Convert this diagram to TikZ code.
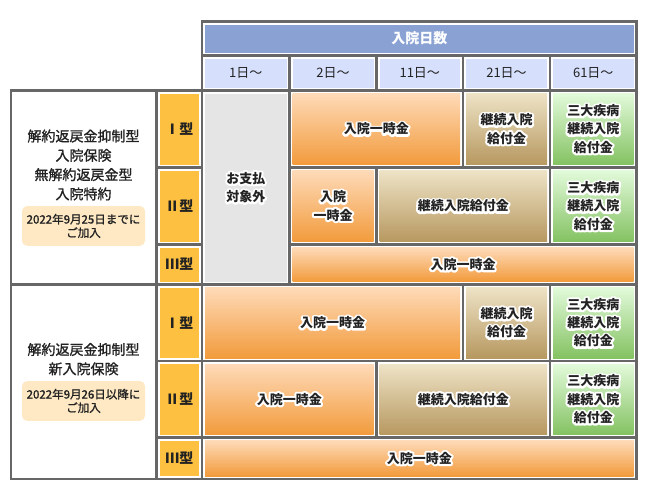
\documentclass[tikz,border=0pt]{standalone}
\usepackage{fontspec}
\setmainfont{Noto Sans CJK JP}
\newfontfamily\lblfont[FakeBold=1.2]{Noto Sans CJK JP}
\definecolor{gridc}{HTML}{676767}
\definecolor{hdrblue}{HTML}{8AA2D3}
\definecolor{daybl}{HTML}{D6E0FC}
\definecolor{typey}{HTML}{FDC040}
\definecolor{nopay}{HTML}{E5E5E5}
\definecolor{orT}{HTML}{FEDAB8}
\definecolor{orB}{HTML}{F29B3C}
\definecolor{brT}{HTML}{EEE3C6}
\definecolor{brB}{HTML}{B79860}
\definecolor{grT}{HTML}{E2FADA}
\definecolor{grB}{HTML}{84C262}
\definecolor{notec}{HTML}{FEE9C4}
\definecolor{txt}{HTML}{222222}
\newcommand\halo[1]{\rlap{\special{pdf:literal 1 Tr 4 w 1 j 1 J 1 1 1 RG}#1\special{pdf:literal 0 Tr 1 w 0 j 0 J 0 0 0 RG}}#1}
\newcommand\cellbox[7]{%
  \fill[white] ({#2+1.3},{#3+1.3}) rectangle ({#4-1.3},{#5-1.3});
  \node[#6, inner sep=0pt, minimum width={#4-#2-6}, minimum height={#5-#3-6}, anchor=center] (#1) at ({(#2+#4)/2},{(#3+#5)/2}) {#7};
}
\tikzset{
  hdr/.style={fill=hdrblue, text=white, font=\bfseries\fontsize{14}{17}\selectfont},
  day/.style={fill=daybl, text=txt, font=\fontsize{13}{16}\selectfont},
  typ/.style={fill=typey, text=txt, font=\bfseries\fontsize{14}{17}\selectfont},
  gray/.style={fill=nopay, text=txt, align=center, font=\bfseries\fontsize{13}{18.3}\selectfont},
  blank/.style={fill=white},
  hcell/.style={text=txt, align=center, font=\bfseries\fontsize{13}{18.3}\selectfont},
  orng/.style={hcell, top color=orT, bottom color=orB},
  brwn/.style={hcell, top color=brT, bottom color=brB},
  gren/.style={hcell, top color=grT, bottom color=grB},
  lbl/.style={text=txt, align=center, font=\lblfont\fontsize{14}{19.3}\selectfont},
  notebox/.style={fill=notec, rounded corners=5pt, text=txt, align=center, inner sep=0pt, font=\lblfont\fontsize{11.5}{13.5}\selectfont}
}
\begin{document}
\begin{tikzpicture}[x=1pt,y=-1pt]
\useasboundingbox (0,0) rectangle (648,498);
\def\Xa{11}\def\Xb{156.5}\def\Xc{202}\def\Xd{289.5}\def\Xe{376.5}\def\Xf{463}\def\Xg{550}\def\Xh{636.5}
\def\Ya{21.5}\def\Yb{55.5}\def\Yc{90.5}\def\Yd{167.5}\def\Ye{244.5}\def\Yf{284.5}\def\Yg{361}\def\Yh{437.5}\def\Yi{479}
% grid background
\fill[gridc] ({\Xc-1.3},{\Ya-1.3}) rectangle ({\Xh+1.3},{\Yc});
\fill[gridc] ({\Xa-1.3},{\Yc-1.3}) rectangle ({\Xh+1.3},{\Yi+1.3});
% header
\cellbox{hdr}{\Xc}{\Ya}{\Xh}{\Yb}{hdr}{入院日数}
\cellbox{d1}{\Xc}{\Yb}{\Xd}{\Yc}{day}{1日〜}
\cellbox{d2}{\Xd}{\Yb}{\Xe}{\Yc}{day}{2日〜}
\cellbox{d11}{\Xe}{\Yb}{\Xf}{\Yc}{day}{11日〜}
\cellbox{d21}{\Xf}{\Yb}{\Xg}{\Yc}{day}{21日〜}
\cellbox{d61}{\Xg}{\Yb}{\Xh}{\Yc}{day}{61日〜}
% group labels
\cellbox{gA}{\Xa}{\Yc}{\Xb}{\Yf}{blank}{}
\cellbox{gB}{\Xa}{\Yf}{\Xb}{\Yi}{blank}{}
% types
\cellbox{tA1}{\Xb}{\Yc}{\Xc}{\Yd}{typ}{Ⅰ型}
\cellbox{tA2}{\Xb}{\Yd}{\Xc}{\Ye}{typ}{Ⅱ型}
\cellbox{tA3}{\Xb}{\Ye}{\Xc}{\Yf}{typ}{Ⅲ型}
\cellbox{tB1}{\Xb}{\Yf}{\Xc}{\Yg}{typ}{Ⅰ型}
\cellbox{tB2}{\Xb}{\Yg}{\Xc}{\Yh}{typ}{Ⅱ型}
\cellbox{tB3}{\Xb}{\Yh}{\Xc}{\Yi}{typ}{Ⅲ型}
% group A
\cellbox{nopay}{\Xc}{\Yc}{\Xd}{\Yf}{gray}{\halo{お支払}\\\halo{対象外}}
\cellbox{a1o}{\Xd}{\Yc}{\Xf}{\Yd}{orng}{\halo{入院一時金}}
\cellbox{a1b}{\Xf}{\Yc}{\Xg}{\Yd}{brwn}{\halo{継続入院}\\\halo{給付金}}
\cellbox{a1g}{\Xg}{\Yc}{\Xh}{\Yd}{gren}{\halo{三大疾病}\\\halo{継続入院}\\\halo{給付金}}
\cellbox{a2o}{\Xd}{\Yd}{\Xe}{\Ye}{orng}{\halo{入院}\\\halo{一時金}}
\cellbox{a2b}{\Xe}{\Yd}{\Xg}{\Ye}{brwn}{\halo{継続入院給付金}}
\cellbox{a2g}{\Xg}{\Yd}{\Xh}{\Ye}{gren}{\halo{三大疾病}\\\halo{継続入院}\\\halo{給付金}}
\cellbox{a3o}{\Xd}{\Ye}{\Xh}{\Yf}{orng}{\halo{入院一時金}}
% group B
\cellbox{b1o}{\Xc}{\Yf}{\Xf}{\Yg}{orng}{\halo{入院一時金}}
\cellbox{b1b}{\Xf}{\Yf}{\Xg}{\Yg}{brwn}{\halo{継続入院}\\\halo{給付金}}
\cellbox{b1g}{\Xg}{\Yf}{\Xh}{\Yg}{gren}{\halo{三大疾病}\\\halo{継続入院}\\\halo{給付金}}
\cellbox{b2o}{\Xc}{\Yg}{\Xe}{\Yh}{orng}{\halo{入院一時金}}
\cellbox{b2b}{\Xe}{\Yg}{\Xg}{\Yh}{brwn}{\halo{継続入院給付金}}
\cellbox{b2g}{\Xg}{\Yg}{\Xh}{\Yh}{gren}{\halo{三大疾病}\\\halo{継続入院}\\\halo{給付金}}
\cellbox{b3o}{\Xc}{\Yh}{\Xh}{\Yi}{orng}{\halo{入院一時金}}
% group label texts
\node[lbl] (gAtext) at (83.5,165) {解約返戻金抑制型\\入院保険\\無解約返戻金型\\入院特約};
\node[notebox, minimum width=123pt, minimum height=39.7pt] (gAnote) at (83.5,225.9) {2022年9月25日までに\\ご加入};
\node[lbl] (gBtext) at (83.5,359.2) {解約返戻金抑制型\\新入院保険};
\node[notebox, minimum width=123pt, minimum height=39.7pt] (gBnote) at (83.5,400.9) {2022年9月26日以降に\\ご加入};
\end{tikzpicture}
\end{document}
